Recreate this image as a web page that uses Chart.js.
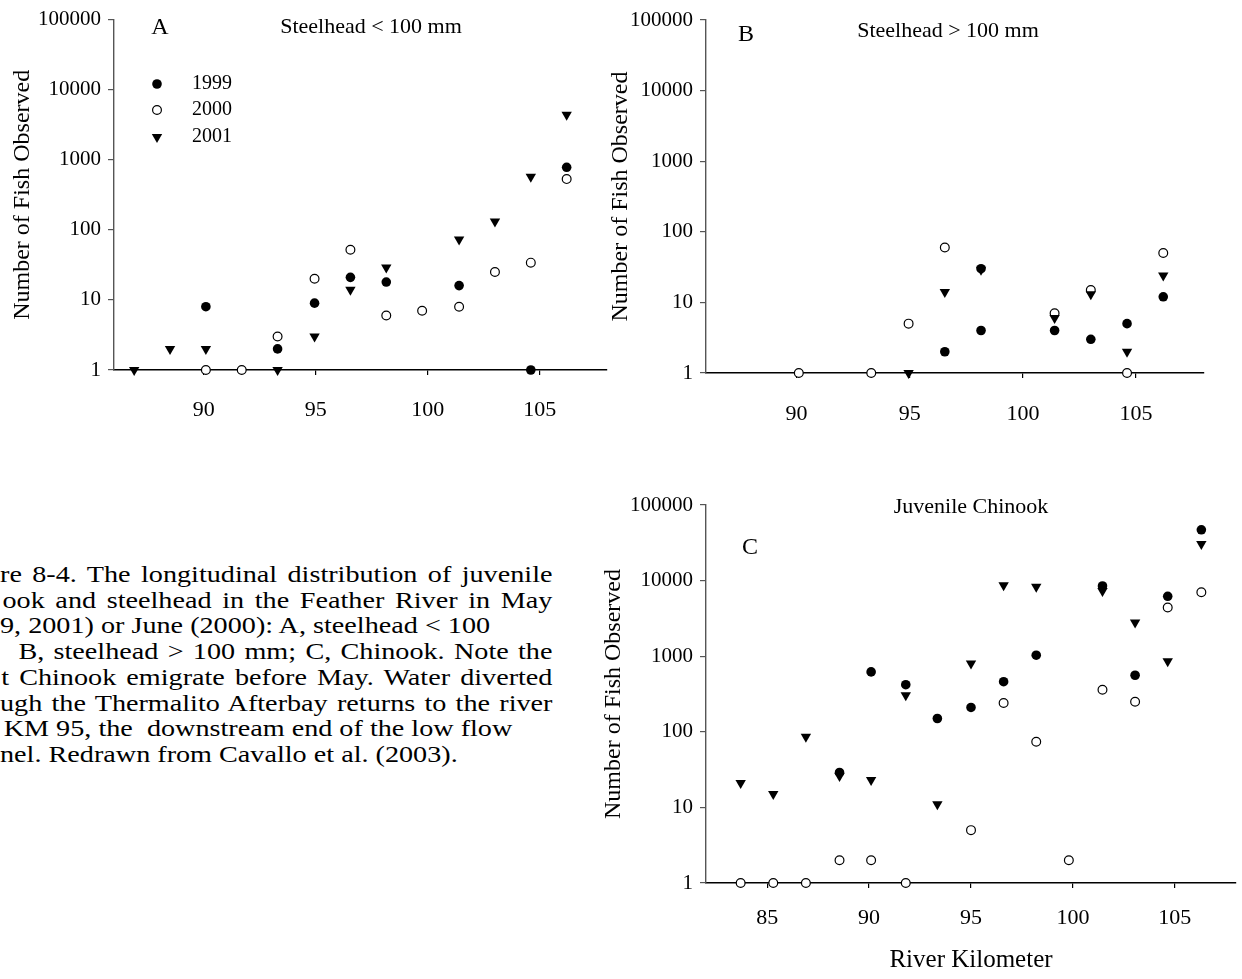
<!DOCTYPE html>
<html>
<head>
<meta charset="utf-8">
<title>Feather River juvenile fish by river kilometer</title>
<script src="https://cdn.jsdelivr.net/npm/chart.js@4.4.1/dist/chart.umd.min.js"></script>
<style>
  body { margin: 0; background: #fff; }
  #page { position: relative; width: 1242px; height: 979px; overflow: hidden; background: #fff; }
  canvas { position: absolute; }
  #caption {
    position: absolute; left: 0; top: 562px; width: 451px;
    font-family: "Liberation Serif", "Times New Roman", serif;
    font-size: 23px; line-height: 25.7px; color: #000;
    transform: scaleX(1.225); transform-origin: 0 0;
  }
  #caption div { white-space: nowrap; }
  #caption div.j { white-space: normal; text-align: justify; text-align-last: justify; }
</style>
</head>
<body>
<div id="page">
  <canvas id="chartA" width="620" height="430" style="left:0;top:0"></canvas>
  <canvas id="chartB" width="620" height="430" style="left:598px;top:0"></canvas>
  <canvas id="chartC" width="644" height="499" style="left:598px;top:480px"></canvas>
  <div id="caption">
    <div class="j">re 8-4. The longitudinal distribution of juvenile</div>
    <div class="j" style="padding-left:2px">ook and steelhead in the Feather River in May</div>
    <div>9, 2001) or June (2000): A, steelhead &lt; 100</div>
    <div class="j" style="padding-left:15px">B, steelhead &gt; 100 mm; C, Chinook. Note the</div>
    <div class="j" style="padding-left:1px">t Chinook emigrate before May. Water diverted</div>
    <div class="j">ugh the Thermalito Afterbay returns to the river</div>
    <div style="padding-left:3px">KM 95, the&nbsp; downstream end of the low flow</div>
    <div>nel. Redrawn from Cavallo et al. (2003).</div>
  </div>
</div>
<script>
// ---------- Data ----------

const years = ["1999", "2000", "2001"];
const countTicks = [1, 10, 100, 1000, 10000, 100000];
const kmTicksAB = [90, 95, 100, 105];
const kmTicksC = [85, 90, 95, 100, 105];

// A: steelhead < 100 mm
const kmA1999 = [90.1, 93.3, 94.95, 96.55, 98.15, 101.4, 104.6, 106.2];
const fishA1999 = [8, 2, 9, 21, 18, 16, 1, 780];
const kmA2000 = [90.1, 91.7, 93.3, 94.95, 96.55, 98.15, 99.75, 101.4, 103.0, 104.6, 106.2];
const fishA2000 = [1, 1, 3, 20, 52, 6, 7, 8, 25, 34, 530];
const kmA2001 = [86.9, 88.5, 90.1, 93.3, 94.95, 96.55, 98.15, 101.4, 103.0, 104.6, 106.2];
const fishA2001 = [1, 2, 2, 1, 3, 14, 29, 73, 132, 570, 4400];

// B: steelhead > 100 mm
const kmB1999 = [96.55, 98.15, 98.15, 101.4, 103.0, 104.6, 106.2];
const fishB1999 = [2, 30, 4, 4, 3, 5, 12];
const kmB2000 = [90.1, 93.3, 94.95, 96.55, 101.4, 103.0, 104.6, 106.2];
const fishB2000 = [1, 1, 5, 60, 7, 15, 1, 50];
const kmB2001 = [94.95, 96.55, 98.15, 101.4, 103.0, 104.6, 106.2];
const fishB2001 = [1, 14, 29, 6, 13, 2, 24];

// C: juvenile Chinook
const kmC1999 = [88.55, 90.1, 91.8, 93.35, 95.0, 96.6, 98.2, 101.45, 103.05, 104.65, 106.3];
const fishC1999 = [29, 620, 420, 150, 210, 460, 1030, 8500, 560, 6200, 47000];
const kmC2000 = [83.7, 85.3, 86.9, 88.55, 90.1, 91.8, 95.0, 96.6, 98.2, 99.8, 101.45, 103.05, 104.65, 106.3];
const fishC2000 = [1, 1, 1, 2, 2, 1, 5, 240, 74, 2, 360, 250, 4400, 7000];
const kmC2001 = [83.7, 85.3, 86.9, 88.55, 90.1, 91.8, 93.35, 95.0, 96.6, 98.2, 101.45, 103.05, 104.65, 106.3];
const fishC2001 = [21, 15, 86, 26, 23, 305, 11, 800, 8700, 8300, 7300, 2800, 860, 30500];

// ---------- Helpers ----------

const SERIF = '"Liberation Serif", "Times New Roman", serif';

function points(km, fish) {
    return km.map((k, i) => ({ x: k, y: fish[i] }));
}

// marker look per year: filled circle, open circle, down triangle
const markerStyles = [
    { pointStyle: "circle", pointRadius: 4.8, pointBackgroundColor: "#000", pointBorderColor: "#000", pointBorderWidth: 0, pointRotation: 0, order: 1 },
    { pointStyle: "circle", pointRadius: 4.4, pointBackgroundColor: "#fff", pointBorderColor: "#000", pointBorderWidth: 1.2, pointRotation: 0, order: 2 },
    { pointStyle: "triangle", pointRadius: 6, pointBackgroundColor: "#000", pointBorderColor: "#000", pointBorderWidth: 0, pointRotation: 180, order: 0 }
];

function makeDatasets(seriesList) {
    return seriesList.map((pts, i) => Object.assign({
        label: years[i],
        data: pts,
        showLine: false,
        clip: false,
        pointHoverRadius: markerStyles[i].pointRadius
    }, markerStyles[i]));
}

// panel letters, subtitles and the small in-plot legend
const panelText = {
    id: "panelText",
    afterDraw(chart, args, opts) {
        const ctx = chart.ctx;
        ctx.save();
        ctx.textBaseline = "middle";
        ctx.fillStyle = "#000";
        (opts.items || []).forEach(t => {
            ctx.font = t.size + "px " + SERIF;
            ctx.textAlign = "center";
            ctx.fillText(t.text, t.x, t.y);
        });
        const lg = opts.legend;
        if (lg) {
            chart.data.datasets.forEach((d, i) => {
                ctx.fillStyle = d.pointBackgroundColor;
                ctx.strokeStyle = d.pointBorderColor;
                ctx.lineWidth = d.pointBorderWidth;
                Chart.helpers.drawPoint(ctx, {
                    pointStyle: d.pointStyle,
                    rotation: d.pointRotation,
                    radius: d.pointRadius,
                    borderWidth: d.pointBorderWidth
                }, lg.x, lg.ys[i]);
                ctx.fillStyle = "#000";
                ctx.font = lg.size + "px " + SERIF;
                ctx.textAlign = "left";
                ctx.fillText(d.label, lg.textX, lg.ys[i]);
            });
        }
        ctx.restore();
    }
};

function createPanel(canvasId, seriesList, cfg) {

    return new Chart(document.getElementById(canvasId), {

        type: "scatter",

        data: { datasets: makeDatasets(seriesList) },

        options: {
            responsive: false,
            animation: false,
            events: [],
            layout: { padding: cfg.padding },
            plugins: {
                legend: { display: false },
                tooltip: { enabled: false },
                panelText: { items: cfg.items, legend: cfg.legend }
            },
            scales: {
                x: {
                    type: "linear",
                    min: cfg.xMin,
                    max: 108,
                    afterBuildTicks: s => { s.ticks = cfg.xTicks.map(v => ({ value: v })); },
                    afterFit: s => { s.height = cfg.xHeight; },
                    grid: { drawOnChartArea: false, tickLength: 5, color: "#000", lineWidth: 1.2 },
                    border: { color: "#000", width: 1.6 },
                    ticks: { padding: cfg.xPad, color: "#000", maxRotation: 0, font: { family: SERIF, size: 22 } },
                    title: {
                        display: !!cfg.xTitle,
                        text: cfg.xTitle || "",
                        color: "#000",
                        font: { family: SERIF, size: 25 },
                        padding: { top: 0, bottom: 4 }
                    }
                },
                y: {
                    type: "logarithmic",
                    min: 1,
                    max: 100000,
                    afterBuildTicks: s => { s.ticks = countTicks.map(v => ({ value: v })); },
                    afterFit: s => { s.width = cfg.yWidth; },
                    grid: { drawOnChartArea: false, tickLength: 6, color: "#555", lineWidth: 1.2 },
                    border: { color: "#555", width: 1.4 },
                    ticks: { padding: 7, color: "#000", callback: v => String(v), font: { family: SERIF, size: 21 } },
                    title: {
                        display: true,
                        text: "Number of Fish Observed",
                        color: "#000",
                        font: { family: SERIF, size: 24 },
                        padding: { top: cfg.yTitlePad, bottom: 0 }
                    }
                }
            }
        },

        plugins: [panelText]
    });
}

// -------- Create Panels --------

createPanel("chartA",
    [points(kmA1999, fishA1999), points(kmA2000, fishA2000), points(kmA2001, fishA2001)],
    {
        padding: { left: 0, top: 17, right: 13, bottom: 0 },
        yWidth: 114, xHeight: 60, xMin: 86, xTicks: kmTicksAB, xPad: 22, yTitlePad: 8,
        items: [
            { text: "A", x: 160, y: 28, size: 24 },
            { text: "Steelhead < 100 mm", x: 371, y: 27, size: 22 }
        ],
        legend: { x: 157, textX: 192, ys: [84, 110, 137], size: 20 }
    });

createPanel("chartB",
    [points(kmB1999, fishB1999), points(kmB2000, fishB2000), points(kmB2001, fishB2001)],
    {
        padding: { left: 0, top: 20, right: 14, bottom: 0 },
        yWidth: 108, xHeight: 57, xMin: 86, xTicks: kmTicksAB, xPad: 23, yTitlePad: 8,
        items: [
            { text: "B", x: 148, y: 35, size: 24 },
            { text: "Steelhead > 100 mm", x: 350, y: 31, size: 22 }
        ]
    });

createPanel("chartC",
    [points(kmC1999, fishC1999), points(kmC2000, fishC2000), points(kmC2001, fishC2001)],
    {
        padding: { left: 0, top: 25, right: 2, bottom: 0 },
        yWidth: 108, xHeight: 96, xMin: 82, xTicks: kmTicksC, xPad: 17, yTitlePad: 1,
        xTitle: "River Kilometer",
        items: [
            { text: "Juvenile Chinook", x: 373, y: 27, size: 22 },
            { text: "C", x: 152, y: 68, size: 24 }
        ]
    });
</script>
</body>
</html>
